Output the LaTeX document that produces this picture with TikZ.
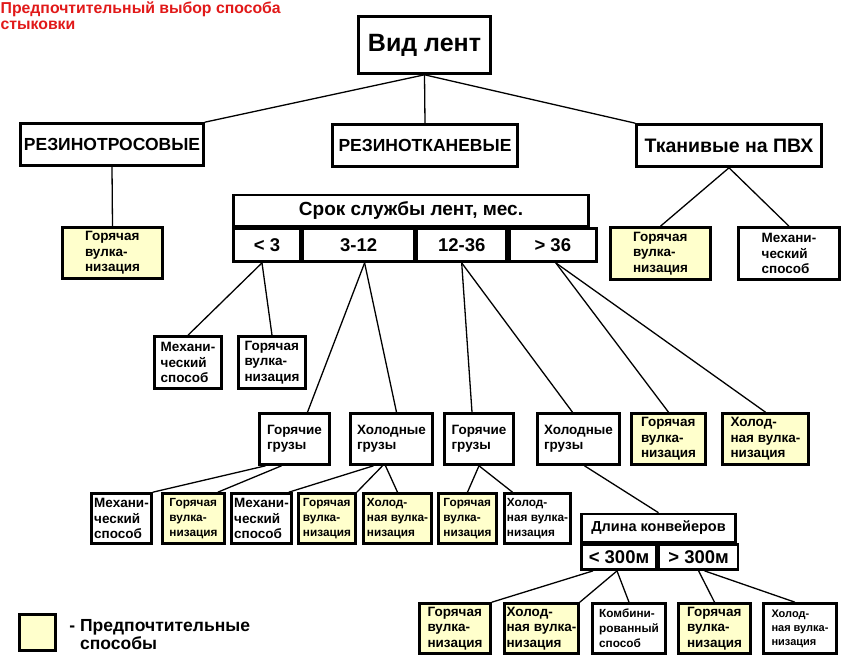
\documentclass[tikz,border=0pt]{standalone}
\usepackage{fontspec}
\setmainfont{Liberation Sans}
\usetikzlibrary{positioning}
\definecolor{prefcol}{RGB}{255,255,204}
\definecolor{titlered}{RGB}{225,25,25}

\begin{document}
\begin{tikzpicture}[x=1pt,y=-1pt,line width=1.3pt,
		box/.style={draw,line width=2.6pt,inner sep=1.5pt,align=left},
		pref/.style={box,fill=prefcol},
		dim/.style 2 args={minimum width=#1pt,minimum height=#2pt},
		fbig/.style={font=\fontsize{25}{28}\selectfont\bfseries},
		fkind/.style={font=\fontsize{17.5}{20}\selectfont\bfseries},
		ftab/.style={font=\fontsize{18.5}{20}\selectfont\bfseries},
		fleafb/.style={font=\fontsize{13.5}{15.5}\selectfont\bfseries},
		fleaf/.style={font=\fontsize{11.8}{15}\selectfont\bfseries}]
	\useasboundingbox (0,0) rectangle (844,660);

	\node	[anchor=north west,inner sep=0pt,align=left,text=titlered,font=\fontsize{15.8}{15.6}\selectfont\bfseries]	(title)	at (0,1)	{Предпочтительный выбор способа\\стыковки};

	% belt kinds
	\node	[box,fbig,dim={132}{57}]	(vid)	at (424.5,45)	{Вид лент};
	\node	[box,fkind,dim={183}{42}]	(rt)	at (112,144.5)	{РЕЗИНОТРОСОВЫЕ};
	\node	[box,fkind,dim={185}{42}]	(rk)	at (425,145.5)	{РЕЗИНОТКАНЕВЫЕ};
	\node	[box,font=\fontsize{19.5}{22}\selectfont\bfseries,dim={185}{42}]	(pvh)	at (729,145.5)	{Тканивые на ПВХ};

	\node	[pref,fleafb,dim={100}{51}]	(hv1)	at (112.5,253)	{Горячая\\вулка-\\низация};
	\node	[pref,fleafb,dim={100}{52}]	(hv2)	at (660.5,253.5)	{Горячая\\вулка-\\низация};
	\node	[box,fleafb,dim={101}{52}]	(ms1)	at (789,253.5)	{Механи-\\ческий\\способ};

	% service life table
	\node	[box,font=\fontsize{19}{21}\selectfont\bfseries,dim={355}{31}]	(srok)	at (411,210.5)	{Срок службы лент, мес.};
	\node	[box,ftab,dim={67}{33},anchor=north west]	(c1)	at (srok.south west)	{< 3};
	\node	[box,ftab,dim={111}{33},anchor=north west]	(c2)	at (c1.north east)	{3-12};
	\node	[box,ftab,dim={90}{33},anchor=north west]	(c3)	at (c2.north east)	{12-36};
	\node	[box,ftab,dim={87}{33},anchor=north west]	(c4)	at (c3.north east)	{> 36};

	\node	[box,fleafb,dim={67}{52}]	(ms2)	at (188,362.5)	{Механи-\\ческий\\способ};
	\node	[box,fleafb,dim={67}{52}]	(hv3)	at (272,362.5)	{Горячая\\вулка-\\низация};

	% loads
	\node	[box,fleafb,dim={70}{51}]	(gg1)	at (294.5,439)	{Горячие\\грузы};
	\node	[box,fleafb,dim={82}{51}]	(hg1)	at (391.5,439)	{Холодные\\грузы};
	\node	[box,fleafb,dim={69}{51}]	(gg2)	at (479,439)	{Горячие\\грузы};
	\node	[box,fleafb,dim={82}{51}]	(hg2)	at (578.5,439)	{Холодные\\грузы};
	\node	[pref,fleafb,dim={74}{51}]	(hv4)	at (668.5,439)	{Горячая\\вулка-\\низация};
	\node	[pref,fleafb,dim={86}{51}]	(hol1)	at (765.5,439)	{Холод-\\ная вулка-\\низация};

	\node	[box,fleafb,dim={60}{50}]	(ms3)	at (121.5,518.5)	{Механи-\\ческий\\способ};
	\node	[pref,fleaf,dim={62}{50}]	(hv5)	at (193.5,518.5)	{Горячая\\вулка-\\низация};
	\node	[box,fleafb,dim={60}{50}]	(ms4)	at (261.5,518.5)	{Механи-\\ческий\\способ};
	\node	[pref,fleaf,dim={57}{50}]	(hv6)	at (327,518.5)	{Горячая\\вулка-\\низация};
	\node	[pref,fleaf,dim={68}{50}]	(hol2)	at (397.5,518.5)	{Холод-\\ная вулка-\\низация};
	\node	[pref,fleaf,dim={58}{50}]	(hv7)	at (467.5,518.5)	{Горячая\\вулка-\\низация};
	\node	[box,fleaf,dim={66}{50}]	(hol3)	at (537.5,518.5)	{Холод-\\ная вулка-\\низация};

	% conveyor length table
	\node	[box,font=\fontsize{14.5}{16}\selectfont\bfseries,dim={154}{28}]	(dl)	at (658.5,528)	{Длина конвейеров};
	\node	[box,font=\fontsize{18.5}{20}\selectfont\bfseries,dim={75}{25},anchor=north west]	(l1)	at (dl.south west)	{< 300м};
	\node	[box,font=\fontsize{18.5}{20}\selectfont\bfseries,dim={79}{25},anchor=north west]	(l2)	at (l1.north east)	{> 300м};

	\node	[pref,fleafb,dim={71}{50}]	(hv8)	at (455,628.5)	{Горячая\\вулка-\\низация};
	\node	[pref,fleafb,dim={74}{50}]	(hol4)	at (541.5,628.5)	{Холод-\\ная вулка-\\низация};
	\node	[box,fleaf,dim={73}{50}]	(komb)	at (629,628.5)	{Комбини-\\рованный\\способ};
	\node	[pref,fleafb,dim={72}{50}]	(hv9)	at (714.5,628.5)	{Горячая\\вулка-\\низация};
	\node	[box,font=\fontsize{11}{14}\selectfont\bfseries,dim={73}{50}]	(hol5)	at (800,628.5)	{Холод-\\ная вулка-\\низация};

	% legend
	\node	[pref,dim={36}{36}]	(leg)	at (37.5,632.5)	{};
	\node	[right=12pt of leg,inner sep=0pt,align=left,font=\fontsize{17.5}{16}\selectfont\bfseries,yshift=-2pt]	(legtext)	{- Предпочтительные\\\phantom{- }способы};

	\path
		(vid.south)	edge	(rt.north east)
		(vid.south)	edge	(rk.north)
		(vid.south)	edge	(pvh.north west)
		(rt.south)	edge	(hv1.north)
		(pvh.south)	edge	(hv2.north)
		(pvh.south)	edge	(ms1.north)
		([xshift=-5pt]c1.south)	edge	(ms2.north)
		([xshift=-5pt]c1.south)	edge	(hv3.north)
		([xshift=6pt]c2.south)	edge	([xshift=13pt]gg1.north)
		([xshift=6pt]c2.south)	edge	([xshift=5pt]hg1.north)
		(c3.south)	edge	([xshift=-7pt]gg2.north)
		(c3.south)	edge	([xshift=-6pt]hg2.north)
		([xshift=3pt]c4.south)	edge	(hv4.north)
		([xshift=3pt]c4.south)	edge	(hol1.north)
		([xshift=-29pt]gg1.south)	edge	(ms3.north east)
		([xshift=-13pt]gg1.south)	edge	([xshift=-8pt]hv5.north east)
		([xshift=-18pt]hg1.south)	edge	([xshift=-4pt]ms4.north east)
		([xshift=-9pt]hg1.south)	edge	(hv6.north east)
		([xshift=-6pt]hg1.south)	edge	(hol2.north)
		(gg2.south)	edge	(hv7.north)
		(gg2.south)	edge	([xshift=-25pt]hol3.north)
		([xshift=6pt]hg2.south)	edge	(dl.north)
		([xshift=-26pt]l1.south)	edge	(hv8.north east)
		([xshift=-2pt]l1.south)	edge	(hol4.north east)
		([xshift=-2pt]l1.south)	edge	(komb.north)
		(l2.south)	edge	(hv9.north)
		([xshift=6pt]l2.south)	edge	([xshift=-5pt]hol5.north)
	;
\end{tikzpicture}
\end{document}
